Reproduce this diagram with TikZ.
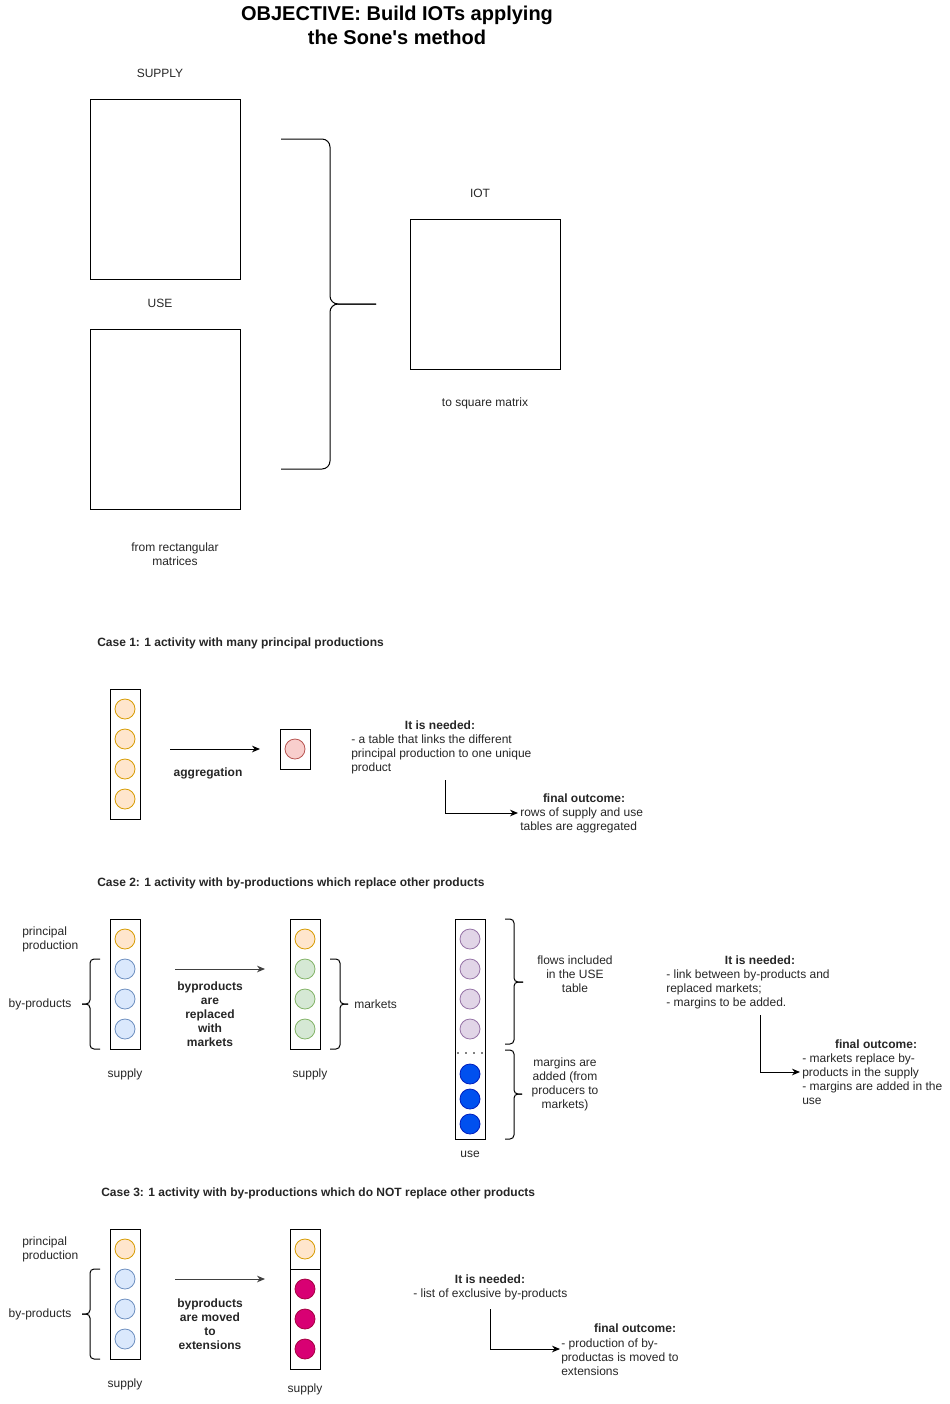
\documentclass[tikz,border=0pt]{standalone}
\usepackage{fontspec}
\setmainfont{Liberation Sans}
\usepackage{tikz}
\usetikzlibrary{arrows.meta,positioning}

\definecolor{orFill}{HTML}{FFE6CC}\definecolor{orLine}{HTML}{D79B00}
\definecolor{rdFill}{HTML}{F8CECC}\definecolor{rdLine}{HTML}{B85450}
\definecolor{blFill}{HTML}{DAE8FC}\definecolor{blLine}{HTML}{6C8EBF}
\definecolor{grFill}{HTML}{D5E8D4}\definecolor{grLine}{HTML}{82B366}
\definecolor{puFill}{HTML}{E1D5E7}\definecolor{puLine}{HTML}{9673A6}
\definecolor{dbFill}{HTML}{0050EF}\definecolor{dbLine}{HTML}{001DBC}
\definecolor{mgFill}{HTML}{D80073}\definecolor{mgLine}{HTML}{A50040}

\begin{document}
\begin{tikzpicture}[x=0.75pt, y=-0.75pt]
			\tikzstyle{Txt}		= [inner sep=0pt, font=\fontsize{9}{10.5}\selectfont, text=black!85]
			\tikzstyle{Bold}	= [inner sep=0pt, font=\fontsize{9}{10.5}\selectfont\bfseries, text=black!85]
			\tikzstyle{Box}		= [draw, line width=0.75pt]
			\tikzstyle{Dot}		= [circle, draw, line width=0.6pt, minimum size=15pt, inner sep=0pt]
			\tikzstyle{Orange}	= [fill=orFill, draw=orLine]
			\tikzstyle{Red}		= [fill=rdFill, draw=rdLine]
			\tikzstyle{Blue}	= [fill=blFill, draw=blLine]
			\tikzstyle{Green}	= [fill=grFill, draw=grLine]
			\tikzstyle{Purple}	= [fill=puFill, draw=puLine]
			\tikzstyle{Deep}	= [fill=dbFill, draw=dbLine]
			\tikzstyle{Mag}		= [fill=mgFill, draw=mgLine]
			\tikzstyle{Brace}	= [line width=0.75pt, rounded corners=3pt]
			\tikzstyle{Arr}		= [line width=0.75pt, -{Stealth[length=6pt, width=5pt]}]
			
			\useasboundingbox (0,0) rectangle (950,1404);
			
			% objective
			\node (title) at (397,25) [inner sep=0pt, align=center, font=\fontsize{15}{18}\selectfont\bfseries] {OBJECTIVE: Build IOTs applying\\the Sone\textquotesingle s method};
			
			\node (supL) at (160,73) [Txt] {SUPPLY};
			\draw [Box] (90,99) rectangle (240,279);
			\node (useL) at (160,303) [Txt] {USE};
			\draw [Box] (90,329) rectangle (240,509);
			\node (rect) at (175,554) [Txt, align=center] {from rectangular\\matrices};
			
			\draw [Brace, rounded corners=6pt] (281,139) -- (330,139) -- (330,304) -- (376,304);
			\draw [Brace, rounded corners=6pt] (281,469) -- (330,469) -- (330,304) -- (376,304);
			
			\node (iotL) at (480,193) [Txt] {IOT};
			\draw [Box] (410,219) rectangle (560,369);
			\node (sq) at (485,403) [Txt] {to square matrix};
			
			% case 1
			\node (case1) at (97,643) [Bold, anchor=west] {Case 1: 1 activity with many principal productions};
			\draw [Box] (110,689) rectangle (140,819);
			\node (p1) at (125,709) [Dot][Orange] {};
			\node (p2) at (125,739) [Dot][Orange] {};
			\node (p3) at (125,769) [Dot][Orange] {};
			\node (p4) at (125,799) [Dot][Orange] {};
			\coordinate (ag1) at (170,749);
			\coordinate (ag2) at (260,749);
			\draw [Arr] (ag1) -- (ag2);
			\node (agg) at (208,773) [Bold] {aggregation};
			\draw [Box] (280,729) rectangle (310,769);
			\node (u1) at (295,749) [Dot][Red] {};
			
			\node (need1) at (440,725) [Bold] {It is needed:};
			\node (need1t) at (351,754) [Txt, anchor=west, align=left] {- a table that links the different\\principal production to one unique\\product};
			\coordinate (n1a) at (445,780);
			\coordinate (n1b) at (518,813);
			\draw [Arr] (n1a) |- (n1b);
			\node (fin1) at (584,798) [Bold] {final outcome:};
			\node (fin1t) at (520,820) [Txt, anchor=west, align=left] {rows of supply and use\\tables are aggregated};
			
			% case 2
			\node (case2) at (97,883) [Bold, anchor=west] {Case 2: 1 activity with by-productions which replace other products};
			\node (pp2) at (22,939) [Txt, anchor=west, align=left] {principal\\production};
			\node (bp2) at (40,1004) [Txt] {by-products};
			\draw [Brace] (100,959) -- (90,959) -- (90,1004) -- (82,1004);
			\draw [Brace] (100,1049) -- (90,1049) -- (90,1004) -- (82,1004);
			\draw [Box] (110,919) rectangle (140,1049);
			\node (s1) at (125,939) [Dot][Orange] {};
			\node (s2) at (125,969) [Dot][Blue] {};
			\node (s3) at (125,999) [Dot][Blue] {};
			\node (s4) at (125,1029) [Dot][Blue] {};
			\node (sup2a) at (125,1074) [Txt] {supply};
			
			\coordinate (r1) at (175,969);
			\coordinate (r2) at (265,969);
			\draw [Arr, black!75] (r1) -- (r2);
			\node (repl) at (210,1014) [Bold, align=center] {byproducts\\are\\replaced\\with\\markets};
			
			\draw [Box] (290,919) rectangle (320,1049);
			\node (m1) at (305,939) [Dot][Orange] {};
			\node (m2) at (305,969) [Dot][Green] {};
			\node (m3) at (305,999) [Dot][Green] {};
			\node (m4) at (305,1029) [Dot][Green] {};
			\draw [Brace] (330,959) -- (340,959) -- (340,1004) -- (348,1004);
			\draw [Brace] (330,1049) -- (340,1049) -- (340,1004) -- (348,1004);
			\node (mk) at (354,1004) [Txt, anchor=west] {markets};
			\node (sup2b) at (310,1074) [Txt] {supply};
			
			\draw [Box] (455,919) rectangle (485,1139);
			\node (f1) at (470,939) [Dot][Purple] {};
			\node (f2) at (470,969) [Dot][Purple] {};
			\node (f3) at (470,999) [Dot][Purple] {};
			\node (f4) at (470,1029) [Dot][Purple] {};
			\fill (458,1053) circle (0.6pt) (466,1053) circle (0.6pt) (474,1053) circle (0.6pt) (482,1053) circle (0.6pt);
			\node (g1) at (470,1074) [Dot][Deep] {};
			\node (g2) at (470,1099) [Dot][Deep] {};
			\node (g3) at (470,1124) [Dot][Deep] {};
			\node (useC) at (470,1154) [Txt] {use};
			\draw [Brace] (505,919) -- (514,919) -- (514,982) -- (523,982);
			\draw [Brace] (505,1044) -- (514,1044) -- (514,982) -- (523,982);
			\draw [Brace] (505,1050) -- (514,1050) -- (514,1094) -- (522,1094);
			\draw [Brace] (505,1139) -- (514,1139) -- (514,1094) -- (522,1094);
			\node (flows) at (575,974) [Txt, align=center] {flows included\\in the USE\\table};
			\node (marg) at (565,1084) [Txt, align=center] {margins are\\added (from\\producers to\\markets)};
			
			\node (need2) at (760,960) [Bold] {It is needed:};
			\node (need2t) at (666,989) [Txt, anchor=west, align=left] {- link between by-products and\\replaced markets;\\- margins to be added.};
			\coordinate (n2a) at (760,1015);
			\coordinate (n2b) at (800,1072);
			\draw [Arr] (n2a) |- (n2b);
			\node (fin2) at (876,1044) [Bold] {final outcome:};
			\node (fin2t) at (802,1079) [Txt, anchor=west, align=left] {- markets replace by-\\products in the supply\\- margins are added in the\\use};
			
			% case 3
			\node (case3) at (101,1193) [Bold, anchor=west] {Case 3: 1 activity with by-productions which do NOT replace other products};
			\node (pp3) at (22,1249) [Txt, anchor=west, align=left] {principal\\production};
			\node (bp3) at (40,1314) [Txt] {by-products};
			\draw [Brace] (100,1269) -- (90,1269) -- (90,1314) -- (82,1314);
			\draw [Brace] (100,1359) -- (90,1359) -- (90,1314) -- (82,1314);
			\draw [Box] (110,1229) rectangle (140,1359);
			\node (t1) at (125,1249) [Dot][Orange] {};
			\node (t2) at (125,1279) [Dot][Blue] {};
			\node (t3) at (125,1309) [Dot][Blue] {};
			\node (t4) at (125,1339) [Dot][Blue] {};
			\node (sup3a) at (125,1384) [Txt] {supply};
			
			\coordinate (x1) at (175,1279);
			\coordinate (x2) at (265,1279);
			\draw [Arr, black!75] (x1) -- (x2);
			\node (moved) at (210,1324) [Bold, align=center] {byproducts\\are moved\\to\\extensions};
			
			\draw [Box] (290,1229) rectangle (320,1269);
			\draw [Box] (290,1269) rectangle (320,1369);
			\node (e0) at (305,1249) [Dot][Orange] {};
			\node (e1) at (305,1289) [Dot][Mag] {};
			\node (e2) at (305,1319) [Dot][Mag] {};
			\node (e3) at (305,1349) [Dot][Mag] {};
			\node (sup3b) at (305,1389) [Txt] {supply};
			
			\node (need3) at (490,1279) [Bold] {It is needed:};
			\node (need3t) at (413,1294) [Txt, anchor=west] {- list of exclusive by-products};
			\coordinate (n3a) at (490,1309);
			\coordinate (n3b) at (560,1349);
			\draw [Arr] (n3a) |- (n3b);
			\node (fin3) at (635,1328) [Bold] {final outcome:};
			\node (fin3t) at (561,1357) [Txt, anchor=west, align=left] {- production of by-\\productas is moved to\\extensions};
		\end{tikzpicture}
\end{document}
